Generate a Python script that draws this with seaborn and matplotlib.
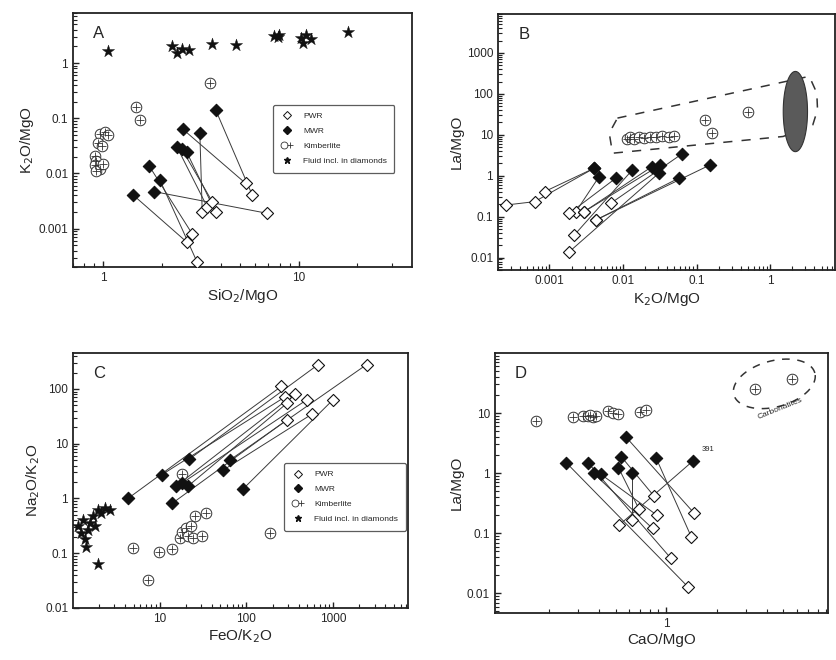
import numpy as np
import matplotlib
matplotlib.use("Agg")
import matplotlib.pyplot as plt
import seaborn as sns
from matplotlib.lines import Line2D
from matplotlib.patches import Polygon
from matplotlib.legend_handler import HandlerTuple
from matplotlib.ticker import LogLocator, NullFormatter

# ---------------- data ----------------
legend_labels = ["PWR", "MWR", "Kimberlite", "Fluid incl. in diamonds"]

# Panel A: K2O/MgO vs SiO2/MgO  (MWR[i] linked to PWR[i])
a_mwr_x = [3.76, 2.56, 3.12, 2.38, 2.53, 2.68, 1.72, 1.95, 1.82, 1.42]
a_mwr_y = [0.142, 0.063, 0.055, 0.0305, 0.0273, 0.024, 0.0136, 0.0076, 0.0047, 0.0041]
a_pwr_x = [5.8, 5.36, 3.21, 3.4, 3.61, 3.76, 2.85, 3.02, 6.9, 2.68]
a_pwr_y = [0.0040, 0.0066, 0.0020, 0.0025, 0.0031, 0.0020, 0.00081, 0.00025, 0.0019, 0.00057]
a_kim_x = [3.51, 1.47, 1.55, 0.96, 1.02, 1.06, 0.94, 0.98, 0.906, 0.92, 0.906, 0.96, 0.92, 1.0]
a_kim_y = [0.43, 0.16, 0.093, 0.053, 0.057, 0.05, 0.035, 0.031, 0.021, 0.017, 0.014, 0.012, 0.011, 0.015]
a_fl_x = [1.06, 2.25, 2.38, 2.53, 2.74, 3.61, 4.76, 7.5, 7.95, 7.8, 10.3, 10.5, 10.9, 11.6, 17.9]
a_fl_y = [1.63, 2.0, 1.52, 1.8, 1.75, 2.24, 2.15, 3.05, 3.27, 2.97, 2.85, 2.3, 3.27, 2.73, 3.6]

# Panel B: La/MgO vs K2O/MgO
b_mwr_x = [0.00406, 0.00406, 0.00474, 0.00797, 0.0134, 0.0249, 0.0634, 0.0306, 0.0571, 0.153, 0.0323]
b_mwr_y = [1.53, 1.53, 0.955, 0.87, 1.39, 1.68, 3.43, 1.15, 0.87, 1.84, 1.84]
b_pwr_x = [0.00063, 0.00086, 0.00229, 0.00186, 0.00218, 0.00297, 0.0068, 0.00186, 0.00428, 0.00428, 0.00297]
b_pwr_y = [0.233, 0.41, 0.133, 0.121, 0.0356, 0.133, 0.212, 0.0139, 0.083, 0.083, 0.133]
b_pwr_end_x = [0.00026]          # PWR sample joined to its neighbour
b_pwr_end_y = [0.193]
b_kim_x = [0.0112, 0.0125, 0.0142, 0.0165, 0.019, 0.023, 0.028, 0.034, 0.042, 0.05, 0.13, 0.16, 0.5]
b_kim_y = [8.0, 8.6, 7.8, 8.8, 8.2, 9.0, 8.6, 9.2, 8.7, 9.4, 23.0, 11.0, 37.0]
b_field_x = [0.0084, 3.4, 4.3, 4.4, 3.8, 1.5, 0.0072, 0.0065]
b_field_y = [25.6, 268, 105, 41, 17.6, 9.1, 3.55, 11.0]
b_carb_center = (2.2, 37.0)      # carbonatite field (grey ellipse)

# Panel C: Na2O/K2O vs FeO/K2O
c_mwr_x = [4.3, 10.5, 21.8, 15.3, 21.0, 18.0, 14.0, 54.0, 64.0, 91.0]
c_mwr_y = [1.0, 2.7, 5.2, 1.66, 1.66, 1.9, 0.82, 3.3, 5.0, 1.48]
c_pwr_x = [253, 276, 671, 362, 294, 500, 290, 573, 2427, 1000]
c_pwr_y = [112, 71, 279, 82, 55, 64, 27, 35, 279, 64]
c_kim_x = [4.9, 9.8, 14.0, 17.0, 18.3, 20.3, 21.0, 24.0, 23.0, 25.3, 34.5, 31.0, 18.3, 186.0, 7.3]
c_kim_y = [0.123, 0.107, 0.118, 0.19, 0.24, 0.29, 0.21, 0.19, 0.32, 0.47, 0.54, 0.21, 2.8, 0.23, 0.033]
c_fl_x = [1.14, 1.25, 1.3, 1.36, 1.49, 1.56, 1.7, 1.78, 1.94, 2.13, 2.32, 2.65, 1.42, 1.94]
c_fl_y = [0.31, 0.23, 0.41, 0.18, 0.27, 0.36, 0.47, 0.31, 0.62, 0.54, 0.67, 0.62, 0.13, 0.064]

# Panel D: La/MgO vs CaO/MgO
d_mwr_x = [0.573, 0.87, 1.44, 0.254, 0.342, 0.369, 0.41, 0.52, 0.54, 0.63]
d_mwr_y = [4.06, 1.8, 1.58, 1.49, 1.49, 0.99, 0.95, 1.23, 1.88, 0.99]
d_pwr_x = [1.47, 1.41, 0.527, 1.35, 1.07, 0.83, 0.88, 0.69, 0.85, 0.63]
d_pwr_y = [0.215, 0.088, 0.138, 0.0128, 0.038, 0.12, 0.20, 0.25, 0.41, 0.167]
d_kim_x = [0.168, 0.278, 0.319, 0.342, 0.366, 0.383, 0.449, 0.48, 0.515, 0.694, 0.76, 0.35]
d_kim_y = [7.4, 8.5, 8.8, 9.0, 8.7, 9.0, 11.0, 10.0, 9.6, 10.3, 11.4, 9.3]
d_carb_x = [3.4, 5.6]
d_carb_y = [25.0, 37.0]

# ---------------- style ----------------
sns.set_theme(style="ticks")
plt.rcParams["font.family"] = ["Liberation Sans", "DejaVu Sans"]
plt.rcParams.update({
    "xtick.direction": "in", "ytick.direction": "in",
    "xtick.major.size": 4.5, "ytick.major.size": 4.5,
    "xtick.minor.size": 2.8, "ytick.minor.size": 2.8,
    "xtick.minor.width": 0.8, "ytick.minor.width": 0.8,
    "axes.linewidth": 1.3, "xtick.labelsize": 8.5, "ytick.labelsize": 8.5,
    "axes.labelsize": 11,
})

fig = plt.figure(figsize=(8.37, 6.60), dpi=100)
axA = fig.add_axes([0.0872, 0.595, 0.405, 0.385])
axB = fig.add_axes([0.595, 0.591, 0.4026, 0.388])
axC = fig.add_axes([0.0872, 0.0788, 0.4003, 0.386])
axD = fig.add_axes([0.591, 0.0712, 0.398, 0.394])

LINE = dict(color="#3a3a3a", lw=0.7, zorder=2)


def links(ax, x0, y0, x1, y1):
    for a, b, c, d in zip(x0, y0, x1, y1):
        ax.plot([a, c], [b, d], **LINE)


def pwr(ax, x, y):
    sns.scatterplot(x=x, y=y, marker="D", s=38, color="white",
                    edgecolor="#111", linewidth=0.8, ax=ax, zorder=4)


def mwr(ax, x, y):
    sns.scatterplot(x=x, y=y, marker="D", s=40, color="#111",
                    edgecolor="#111", linewidth=0.8, ax=ax, zorder=5)


def kim(ax, x, y):
    sns.scatterplot(x=x, y=y, marker="o", s=58, color="white",
                    edgecolor="#333", linewidth=0.7, ax=ax, zorder=4)
    sns.scatterplot(x=x, y=y, marker="+", s=32, color="#333",
                    linewidth=0.6, ax=ax, zorder=4)


def fluid(ax, x, y):
    sns.scatterplot(x=x, y=y, marker="*", s=85, color="#111",
                    edgecolor="#111", linewidth=0.3, ax=ax, zorder=4)


for ax in (axA, axB, axC, axD):
    ax.set_xscale("log")
    ax.set_yscale("log")

# ---- A ----
links(axA, a_mwr_x, a_mwr_y, a_pwr_x, a_pwr_y)
pwr(axA, a_pwr_x, a_pwr_y)
mwr(axA, a_mwr_x, a_mwr_y)
kim(axA, a_kim_x, a_kim_y)
fluid(axA, a_fl_x, a_fl_y)
axA.set_xlim(0.7, 38)
axA.set_ylim(0.0002, 8)
axA.set_xticks([1, 10], ["1", "10"])
axA.set_yticks([0.001, 0.01, 0.1, 1], ["0.001", "0.01", "0.1", "1"])
axA.set_xlabel("SiO$_2$/MgO", labelpad=2)
axA.set_ylabel("K$_2$O/MgO", labelpad=2)

# ---- B ----
bx = np.log10(b_field_x)
by = np.log10(b_field_y)
axB.add_patch(Polygon(np.column_stack([10 ** bx, 10 ** by]), closed=True, fill=False,
                      ls=(0, (6, 6)), lw=1.1, ec="#333", zorder=1))
t = np.linspace(0, 2 * np.pi, 200)
cx, cy = np.log10(b_carb_center[0]), np.log10(b_carb_center[1])
axB.fill(10 ** (cx + 0.165 * np.cos(t)), 10 ** (cy + 0.98 * np.sin(t)),
         color="#5a5a5a", ec="#333", lw=0.8, zorder=1)
links(axB, b_mwr_x, b_mwr_y, b_pwr_x, b_pwr_y)
links(axB, b_pwr_end_x, b_pwr_end_y, b_pwr_x[:1], b_pwr_y[:1])
pwr(axB, b_pwr_x + b_pwr_end_x, b_pwr_y + b_pwr_end_y)
mwr(axB, b_mwr_x, b_mwr_y)
kim(axB, b_kim_x, b_kim_y)
axB.set_xlim(0.0002, 7.6)
axB.set_ylim(0.005, 9000)
axB.set_xticks([0.001, 0.01, 0.1, 1], ["0.001", "0.01", "0.1", "1"])
axB.set_yticks([0.01, 0.1, 1, 10, 100, 1000], ["0.01", "0.1", "1", "10", "100", "1000"])
axB.set_xlabel("K$_2$O/MgO", labelpad=2)
axB.set_ylabel("La/MgO", labelpad=2)

# ---- C ----
links(axC, c_mwr_x, c_mwr_y, c_pwr_x, c_pwr_y)
pwr(axC, c_pwr_x, c_pwr_y)
mwr(axC, c_mwr_x, c_mwr_y)
kim(axC, c_kim_x, c_kim_y)
fluid(axC, c_fl_x, c_fl_y)
axC.set_xlim(1, 7300)
axC.set_ylim(0.01, 450)
axC.set_xticks([10, 100, 1000], ["10", "100", "1000"])
axC.set_yticks([0.01, 0.1, 1, 10, 100], ["0.01", "0.1", "1", "10", "100"])
axC.set_xlabel("FeO/K$_2$O", labelpad=2)
axC.set_ylabel("Na$_2$O/K$_2$O", labelpad=2)

# ---- D ----
ex, ey = 0.645, 1.486
th = np.deg2rad(15)
u, v = 42 * np.cos(t), 23 * np.sin(t)
pu = u * np.cos(th) - v * np.sin(th)
pv = u * np.sin(th) + v * np.cos(th)
axD.plot(10 ** (ex + pu / 168.0), 10 ** (ey + pv / 60.0), ls=(0, (5, 5)),
         color="#333", lw=1.1, zorder=1)
links(axD, d_mwr_x, d_mwr_y, d_pwr_x, d_pwr_y)
pwr(axD, d_pwr_x, d_pwr_y)
mwr(axD, d_mwr_x, d_mwr_y)
kim(axD, d_kim_x, d_kim_y)
kim(axD, d_carb_x, d_carb_y)
axD.text(4.8, 11.7, "Carbonatites", fontsize=6, rotation=22, ha="center", va="center")
axD.text(1.62, 2.5, "391", fontsize=5.5, ha="left", va="center")
axD.set_xlim(0.095, 9.2)
axD.set_ylim(0.0047, 100)
axD.set_xticks([1], ["1"])
axD.set_yticks([0.01, 0.1, 1, 10], ["0.01", "0.1", "1", "10"])
axD.set_xlabel("CaO/MgO", labelpad=2)
axD.set_ylabel("La/MgO", labelpad=2)

for ax, letter in zip((axA, axB, axC, axD), "ABCD"):
    ax.text(0.06, 0.95, letter, transform=ax.transAxes, fontsize=12,
            ha="left", va="top")
    for axis in (ax.xaxis, ax.yaxis):
        axis.set_minor_locator(LogLocator(base=10, subs=np.arange(2, 10), numticks=100))
        axis.set_minor_formatter(NullFormatter())
    ax.tick_params(which="both", direction="in", top=False, right=False,
                   bottom=True, left=True, color="#222")
    ax.tick_params(which="minor", length=2.8, width=0.8)
    ax.tick_params(which="major", length=4.5, width=1.0)
    for s in ax.spines.values():
        s.set_visible(True)
        s.set_color("#222")

# legends
h_pwr = Line2D([], [], ls="", marker="D", ms=4, mfc="white", mec="#111", mew=0.7)
h_mwr = Line2D([], [], ls="", marker="D", ms=4, mfc="#111", mec="#111")
h_kc = Line2D([], [], ls="", marker="o", ms=5, mfc="white", mec="#333", mew=0.6)
h_kp = Line2D([], [], ls="", marker="+", ms=4, mec="#333", mew=0.6)
h_fl = Line2D([], [], ls="", marker="*", ms=5, mfc="#111", mec="#111")
handles = [h_pwr, h_mwr, (h_kc, h_kp), h_fl]
for ax, anchor in ((axA, (0.578, 0.655)), (axC, (0.618, 0.585))):
    leg = ax.legend(handles, legend_labels, loc="upper left", bbox_to_anchor=anchor,
                    fontsize=6, frameon=True, fancybox=True, labelspacing=0.85,
                    borderpad=0.9, handletextpad=1.2, handlelength=1.5,
                    handler_map={tuple: HandlerTuple(ndivide=None, pad=0)})
    leg.get_frame().set_edgecolor("#333")
    leg.get_frame().set_linewidth(0.9)

fig.savefig("out.png", dpi=100)
